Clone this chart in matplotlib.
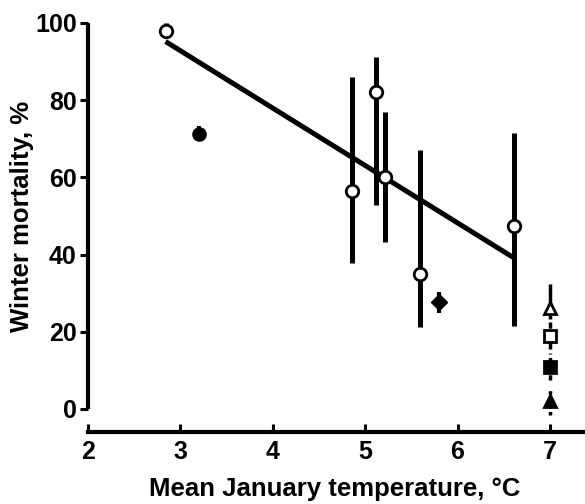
import matplotlib
matplotlib.use("Agg")
import matplotlib.pyplot as plt
import numpy as np

plt.rcParams['font.family'] = ['Liberation Sans', 'DejaVu Sans']
plt.rcParams['font.weight'] = 'bold'

# open circles with error bars
temp = [2.84, 4.86, 5.12, 5.22, 5.59, 6.61]
mort = [97.8, 56.5, 82.2, 60.2, 35.0, 47.5]
err_lo = [1.5, 18.6, 29.3, 16.9, 13.7, 26.0]
err_hi = [2.3, 29.6, 9.1, 16.8, 32.2, 24.1]

# filled points
fc_x, fc_y, fc_err = [3.2], [71.3], [2.0]
fd_x, fd_y, fd_err = [5.8], [27.6], [2.8]

# regression line ends
reg_x = [2.84, 6.6]
reg_y = [95.2, 39.3]

# points at 7 degrees
x7 = 7.0
tri_o_y, tri_o_lo, tri_o_hi = 26.2, 3.0, 6.2
sq_o_y, sq_o_lo, sq_o_hi = 19.0, 3.5, 3.5
sq_f_y, sq_f_lo, sq_f_hi = 11.0, 3.5, 3.5
tri_f_y, tri_f_lo, tri_f_hi = 2.0, 3.5, 3.5

fig = plt.figure(figsize=(5.85, 5.04), dpi=100)
ax = fig.add_axes([0.1504, 0.1885, 0.8496, 0.7659])

ax.plot(reg_x, reg_y, color='black', lw=3.6, solid_capstyle='butt', zorder=3)

ax.errorbar(temp, mort, yerr=[err_lo, err_hi], fmt='o', ms=9, mfc='white',
            mec='black', mew=2, ecolor='black', elinewidth=3.6, capsize=0, zorder=4)
ax.errorbar(fc_x, fc_y, yerr=fc_err, fmt='o', ms=9.5, color='black',
            elinewidth=3, capsize=0, zorder=4)
ax.errorbar(fd_x, fd_y, yerr=fd_err, fmt='D', ms=8.5, color='black',
            elinewidth=3, capsize=0, zorder=4)

def pt7(y, lo, hi, marker, filled, ls):
    eb = ax.errorbar([x7], [y], yerr=[[lo], [hi]], fmt=marker, ms=8,
                     mfc='black' if filled else 'white', mec='black', mew=2,
                     ecolor='black', elinewidth=2.5, capsize=0, zorder=4)
    eb[2][0].set_linestyle(ls)
    eb[0].set_clip_on(False)
    eb[2][0].set_clip_on(False)

pt7(tri_o_y, tri_o_lo, tri_o_hi, '^', False, '-')
pt7(sq_o_y, sq_o_lo, sq_o_hi, 's', False, (0, (2, 1)))
pt7(sq_f_y, sq_f_lo, sq_f_hi, 's', True, (0, (1.5, 1)))
pt7(tri_f_y, tri_f_lo, tri_f_hi, '^', True, (0, (1, 1)))

ax.set_xlim(2, 7.38)
ax.set_ylim(0, 100)
ax.set_xticks([2, 3, 4, 5, 6, 7])
ax.set_yticks([0, 20, 40, 60, 80, 100])

ax.spines['top'].set_visible(False)
ax.spines['right'].set_visible(False)
ax.spines['left'].set_linewidth(3)
ax.spines['bottom'].set_linewidth(3)
ax.spines['bottom'].set_position(('outward', 16.5))
ax.spines['left'].set_capstyle('butt')

ax.tick_params(axis='y', direction='out', length=6, width=2.2, labelsize=18, pad=2)
ax.tick_params(axis='x', direction='in', length=6, width=2.2, labelsize=18, pad=6)

ax.set_xlabel('Mean January temperature, °C', fontsize=18.5, fontweight='bold')
ax.set_ylabel('Winter mortality, %', fontsize=18.5, fontweight='bold')
ax.xaxis.set_label_coords(0.497, -0.175)
ax.yaxis.set_label_coords(-0.108, 0.5)

fig.savefig('out.png', dpi=100)
